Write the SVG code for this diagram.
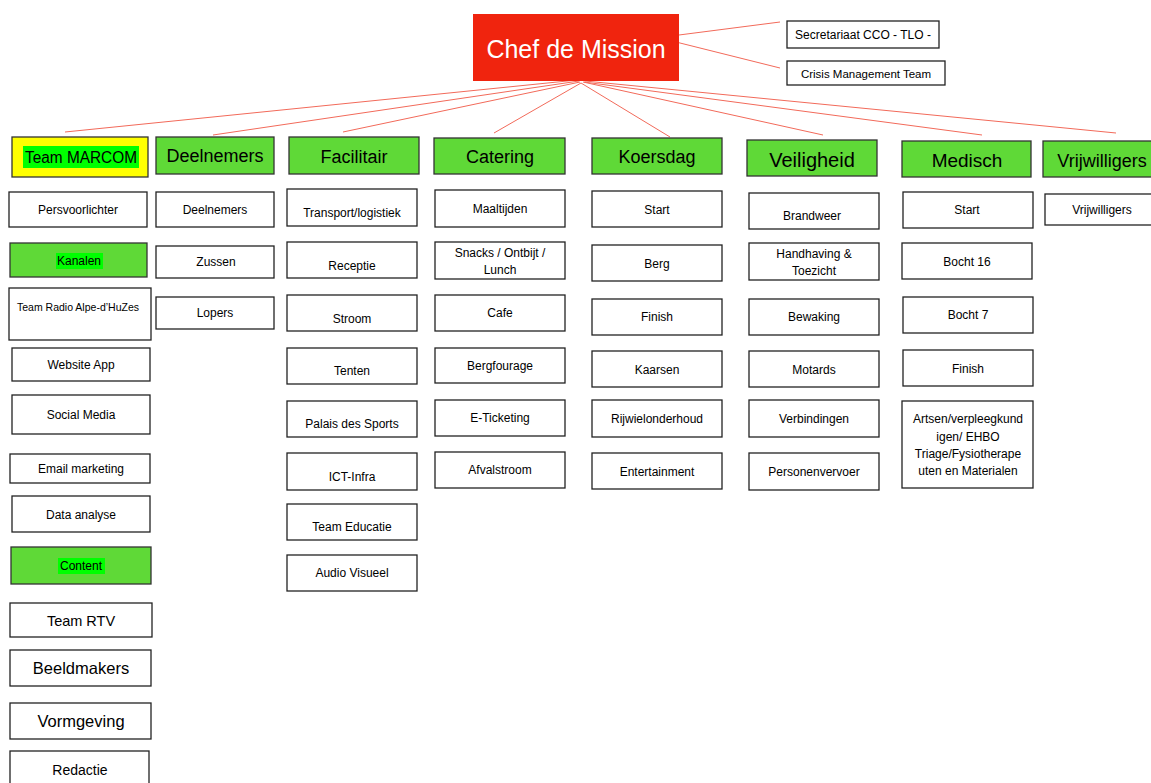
<svg xmlns="http://www.w3.org/2000/svg" width="1151" height="783" viewBox="0 0 1151 783">
<style>
.bx{fill:#fff;stroke:#222;stroke-width:1.3}
.hd{fill:#5fd937;stroke:#333;stroke-width:1.3}
.t{font-family:"Liberation Sans",Arial,sans-serif;font-size:12px;fill:#000;text-anchor:middle}
.h{font-family:"Liberation Sans",Arial,sans-serif;font-size:18px;fill:#000;text-anchor:middle}
.ln{stroke:#f26a5a;stroke-width:1;fill:none}
</style>
<rect width="1151" height="783" fill="#fff"/>
<g id="connectors">
<line class="ln" x1="679" y1="35" x2="780" y2="22"/>
<line class="ln" x1="672" y1="41" x2="780" y2="68"/>
<line class="ln" x1="577" y1="80" x2="65" y2="132"/>
<line class="ln" x1="579" y1="81" x2="213" y2="135"/>
<line class="ln" x1="580" y1="82" x2="343" y2="132"/>
<line class="ln" x1="581" y1="83" x2="494" y2="133"/>
<line class="ln" x1="581" y1="83" x2="670" y2="137"/>
<line class="ln" x1="583" y1="82" x2="823" y2="135"/>
<line class="ln" x1="584" y1="82" x2="982" y2="135"/>
<line class="ln" x1="585" y1="81" x2="1116" y2="133"/>
</g>
<g id="chef">
<rect x="473" y="14" width="206" height="67" fill="#f0240e"/>
<text x="576" y="58" font-family="'Liberation Sans',Arial,sans-serif" font-size="25" fill="#fff" text-anchor="middle">Chef de Mission</text>
</g>
<g id="secretariaat"><rect class="bx" x="787" y="21" width="152" height="27"/><text class="t" x="863" y="39">Secretariaat CCO - TLO -</text></g>
<g id="crisis"><rect class="bx" x="787" y="61" width="158" height="24"/><text class="t" x="866" y="78" style="font-size:11.5px">Crisis Management Team</text></g>

<g id="h-marcom"><rect x="12" y="137" width="136" height="40" fill="#ffff00" stroke="#333" stroke-width="1.3"/><rect x="23" y="146" width="116" height="22" fill="#00ff00"/><text class="h" x="81" y="163" style="font-size:16px" textLength="112" lengthAdjust="spacingAndGlyphs">Team MARCOM</text></g>
<g id="h-deelnemers"><rect class="hd" x="156" y="137" width="118" height="37"/><text class="h" x="215" y="162">Deelnemers</text></g>
<g id="h-facilitair"><rect class="hd" x="289" y="137" width="130" height="37"/><text class="h" x="354" y="163">Facilitair</text></g>
<g id="h-catering"><rect class="hd" x="434" y="138" width="131" height="36"/><text class="h" x="500" y="163">Catering</text></g>
<g id="h-koersdag"><rect class="hd" x="592" y="138" width="130" height="36"/><text class="h" x="657" y="163">Koersdag</text></g>
<g id="h-veiligheid"><rect class="hd" x="747" y="140" width="130" height="36"/><text class="h" x="812" y="167" style="font-size:20px">Veiligheid</text></g>
<g id="h-medisch"><rect class="hd" x="902" y="141" width="129" height="36"/><text class="h" x="967" y="167" style="font-size:19px">Medisch</text></g>
<g id="h-vrijwilligers"><rect class="hd" x="1043" y="141" width="112" height="36"/><text class="h" x="1102" y="167" style="font-size:18px">Vrijwilligers</text></g>

<g id="persvoorlichter"><rect class="bx" x="9" y="192" width="138" height="35"/><text class="t" x="78" y="214">Persvoorlichter</text></g>
<g id="kanalen"><rect class="hd" x="10" y="243" width="137" height="34"/><rect x="56" y="253" width="47" height="16" fill="#00ff00"/><text class="t" x="79" y="265">Kanalen</text></g>
<g id="teamradio"><rect class="bx" x="9" y="288" width="142" height="52"/><text class="t" x="78" y="311" style="font-size:10.5px">Team Radio Alpe-d’HuZes</text></g>
<g id="website"><rect class="bx" x="12" y="348" width="138" height="33"/><text class="t" x="81" y="369">Website App</text></g>
<g id="social"><rect class="bx" x="12" y="395" width="138" height="39"/><text class="t" x="81" y="419">Social Media</text></g>
<g id="email"><rect class="bx" x="10" y="454" width="140" height="29"/><text class="t" x="81" y="473">Email marketing</text></g>
<g id="data"><rect class="bx" x="12" y="496" width="138" height="36"/><text class="t" x="81" y="519">Data analyse</text></g>
<g id="content"><rect class="hd" x="11" y="547" width="140" height="37"/><rect x="58" y="558" width="47" height="16" fill="#00ff00"/><text class="t" x="81" y="570">Content</text></g>
<g id="teamrtv"><rect class="bx" x="10" y="603" width="142" height="34"/><text class="t" x="81" y="626" style="font-size:14.5px">Team RTV</text></g>
<g id="beeldmakers"><rect class="bx" x="10" y="650" width="141" height="36"/><text class="t" x="81" y="674" style="font-size:16.5px">Beeldmakers</text></g>
<g id="vormgeving"><rect class="bx" x="10" y="703" width="141" height="36"/><text class="t" x="81" y="727" style="font-size:16.5px">Vormgeving</text></g>
<g id="redactie"><rect class="bx" x="10" y="751" width="139" height="40"/><text class="t" x="80" y="775" style="font-size:14px">Redactie</text></g>

<g id="deelnemers"><rect class="bx" x="156" y="192" width="118" height="35"/><text class="t" x="215" y="214">Deelnemers</text></g>
<g id="zussen"><rect class="bx" x="156" y="246" width="118" height="32"/><text class="t" x="216" y="266">Zussen</text></g>
<g id="lopers"><rect class="bx" x="156" y="297" width="118" height="32"/><text class="t" x="215" y="317">Lopers</text></g>

<g id="transport"><rect class="bx" x="287" y="189" width="130" height="37"/><text class="t" x="352" y="217">Transport/logistiek</text></g>
<g id="receptie"><rect class="bx" x="287" y="242" width="130" height="36"/><text class="t" x="352" y="270">Receptie</text></g>
<g id="stroom"><rect class="bx" x="287" y="295" width="130" height="36"/><text class="t" x="352" y="323">Stroom</text></g>
<g id="tenten"><rect class="bx" x="287" y="348" width="130" height="36"/><text class="t" x="352" y="375">Tenten</text></g>
<g id="palais"><rect class="bx" x="287" y="401" width="130" height="36"/><text class="t" x="352" y="428">Palais des Sports</text></g>
<g id="ictinfra"><rect class="bx" x="287" y="453" width="130" height="37"/><text class="t" x="352" y="481">ICT-Infra</text></g>
<g id="educatie"><rect class="bx" x="287" y="504" width="130" height="36"/><text class="t" x="352" y="531">Team Educatie</text></g>
<g id="audio"><rect class="bx" x="287" y="555" width="130" height="36"/><text class="t" x="352" y="577">Audio Visueel</text></g>

<g id="maaltijden"><rect class="bx" x="435" y="190" width="130" height="37"/><text class="t" x="500" y="213">Maaltijden</text></g>
<g id="snacks"><rect class="bx" x="435" y="242" width="130" height="37"/><text class="t" x="500" y="257">Snacks / Ontbijt /</text><text class="t" x="500" y="274">Lunch</text></g>
<g id="cafe"><rect class="bx" x="435" y="295" width="130" height="36"/><text class="t" x="500" y="317">Cafe</text></g>
<g id="bergfourage"><rect class="bx" x="435" y="348" width="130" height="35"/><text class="t" x="500" y="370">Bergfourage</text></g>
<g id="eticketing"><rect class="bx" x="435" y="400" width="130" height="36"/><text class="t" x="500" y="422">E-Ticketing</text></g>
<g id="afvalstroom"><rect class="bx" x="435" y="452" width="130" height="36"/><text class="t" x="500" y="474">Afvalstroom</text></g>

<g id="k-start"><rect class="bx" x="592" y="191" width="130" height="36"/><text class="t" x="657" y="214">Start</text></g>
<g id="k-berg"><rect class="bx" x="592" y="245" width="130" height="36"/><text class="t" x="657" y="268">Berg</text></g>
<g id="k-finish"><rect class="bx" x="592" y="299" width="130" height="36"/><text class="t" x="657" y="321">Finish</text></g>
<g id="kaarsen"><rect class="bx" x="592" y="351" width="130" height="36"/><text class="t" x="657" y="374">Kaarsen</text></g>
<g id="rijwiel"><rect class="bx" x="592" y="400" width="130" height="37"/><text class="t" x="657" y="423">Rijwielonderhoud</text></g>
<g id="entertainment"><rect class="bx" x="592" y="453" width="130" height="36"/><text class="t" x="657" y="476">Entertainment</text></g>

<g id="brandweer"><rect class="bx" x="749" y="193" width="130" height="36"/><text class="t" x="812" y="220">Brandweer</text></g>
<g id="handhaving"><rect class="bx" x="749" y="243" width="130" height="37"/><text class="t" x="814" y="258">Handhaving &amp;</text><text class="t" x="814" y="275">Toezicht</text></g>
<g id="bewaking"><rect class="bx" x="749" y="299" width="130" height="36"/><text class="t" x="814" y="321">Bewaking</text></g>
<g id="motards"><rect class="bx" x="749" y="351" width="130" height="36"/><text class="t" x="814" y="374">Motards</text></g>
<g id="verbindingen"><rect class="bx" x="749" y="400" width="130" height="37"/><text class="t" x="814" y="423">Verbindingen</text></g>
<g id="personenvervoer"><rect class="bx" x="749" y="453" width="130" height="37"/><text class="t" x="814" y="476">Personenvervoer</text></g>

<g id="m-start"><rect class="bx" x="903" y="192" width="130" height="36"/><text class="t" x="967" y="214">Start</text></g>
<g id="bocht16"><rect class="bx" x="902" y="243" width="130" height="36"/><text class="t" x="967" y="266">Bocht 16</text></g>
<g id="bocht7"><rect class="bx" x="903" y="297" width="130" height="36"/><text class="t" x="968" y="319">Bocht 7</text></g>
<g id="m-finish"><rect class="bx" x="903" y="350" width="130" height="36"/><text class="t" x="968" y="373">Finish</text></g>
<g id="artsen"><rect class="bx" x="902" y="401" width="131" height="87"/><text class="t" x="968" y="423">Artsen/verpleegkund</text><text class="t" x="968" y="441">igen/ EHBO</text><text class="t" x="968" y="458">Triage/Fysiotherape</text><text class="t" x="968" y="475">uten en Materialen</text></g>

<g id="vrijwilligers"><rect class="bx" x="1045" y="194" width="110" height="31"/><text class="t" x="1102" y="214">Vrijwilligers</text></g>
</svg>
